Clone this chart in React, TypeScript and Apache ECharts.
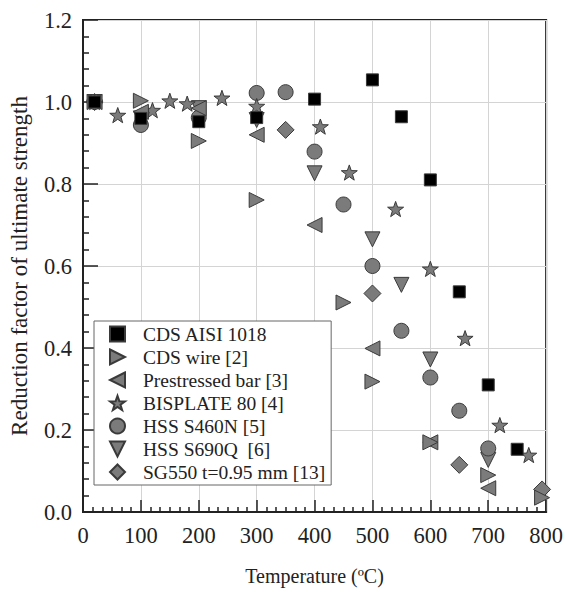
import React, { useEffect, useRef } from "react";
import * as echarts from "echarts";

const seriesNames = [
  "CDS AISI 1018",
  "CDS wire [2]",
  "Prestressed bar [3]",
  "BISPLATE 80 [4]",
  "HSS S460N [5]",
  "HSS S690Q  [6]",
  "SG550 t=0.95 mm [13]",
];

const cdsAisi: number[][] = [
  [20, 1.0], [100, 0.96], [200, 0.952], [300, 0.962], [400, 1.007],
  [500, 1.054], [550, 0.964], [600, 0.81], [650, 0.537], [700, 0.31], [750, 0.153],
];
const cdsWire: number[][] = [
  [20, 1.0], [100, 1.003], [200, 0.905], [300, 0.761], [450, 0.511],
  [500, 0.318], [600, 0.17], [700, 0.09], [793, 0.035],
];
const prestressed: number[][] = [
  [20, 1.0], [100, 0.976], [200, 0.985], [300, 0.92], [400, 0.70],
  [500, 0.399], [600, 0.17], [700, 0.058],
];
const bisplate: number[][] = [
  [20, 1.0], [60, 0.968], [120, 0.98], [150, 1.003], [180, 0.996], [240, 1.01],
  [300, 0.99], [410, 0.94], [460, 0.828], [540, 0.739], [600, 0.593],
  [660, 0.424], [720, 0.212], [770, 0.139],
];
const s460n: number[][] = [
  [20, 1.0], [100, 0.944], [200, 0.962], [300, 1.022], [350, 1.024],
  [400, 0.879], [450, 0.75], [500, 0.60], [550, 0.442], [600, 0.328],
  [650, 0.247], [700, 0.155],
];
const s690q: number[][] = [
  [20, 1.0], [100, 0.96], [200, 0.985], [300, 0.956], [400, 0.826],
  [500, 0.665], [550, 0.554], [600, 0.372], [700, 0.127],
];
const sg550: number[][] = [
  [20, 1.0], [350, 0.932], [500, 0.533], [650, 0.115], [793, 0.055],
];

const xTicks = [0, 100, 200, 300, 400, 500, 600, 700, 800];
const yTicks = [0, 0.2, 0.4, 0.6, 0.8, 1.0, 1.2];

const STAR =
  "path://M50,0 L61.76,33.82 L97.55,34.55 L69.02,56.18 L79.39,90.45 L50,70 L20.61,90.45 L30.98,56.18 L2.45,34.55 L38.24,33.82 Z";
const TRI_RIGHT = "path://M0,0 L100,50 L0,100 Z";
const TRI_LEFT = "path://M100,0 L0,50 L100,100 Z";
const TRI_DOWN = "path://M0,0 L100,0 L50,100 Z";

const FONT = "'Liberation Serif', 'Times New Roman', serif";
const GRAY = "#7b7b7b";
const EDGE = "#3a3a3a";

export default function App() {
  const ref = useRef<HTMLDivElement>(null);
  useEffect(() => {
    document.body.style.margin = "0";
    if (!ref.current) return;
    const chart = echarts.init(ref.current, undefined, { renderer: "svg" });
    const mk = (
      name: string,
      data: number[][],
      symbol: string,
      size: number,
      color: string,
      z: number
    ) => ({
      type: "scatter",
      name,
      data,
      symbol,
      symbolSize: size,
      symbolKeepAspect: true,
      z,
      itemStyle: { color, borderColor: EDGE, borderWidth: 1, opacity: 1 },
    });
    chart.setOption({
      animation: false,
      backgroundColor: "#ffffff",
      textStyle: { fontFamily: FONT },
      grid: {
        left: 82,
        right: 18,
        top: 20,
        bottom: 80,
        show: true,
        borderColor: "#222",
        borderWidth: 2,
        backgroundColor: "transparent",
      },
      legend: {
        orient: "vertical",
        left: 94,
        top: 321,
        data: seriesNames,
        itemWidth: 15,
        itemHeight: 15,
        itemGap: 3,
        padding: [3, 6, 3, 15],
        backgroundColor: "#ffffff",
        borderColor: "#666",
        borderWidth: 1,
        borderRadius: 0,
        textStyle: {
          fontFamily: FONT,
          fontSize: 19.5,
          color: "#222",
          padding: [0, 0, 0, 13],
        },
        z: 10,
      },
      xAxis: {
        type: "value",
        min: xTicks[0],
        max: xTicks[xTicks.length - 1],
        interval: 100,
        name: "Temperature (ºC)",
        nameLocation: "middle",
        nameGap: 54,
        nameTextStyle: { fontFamily: FONT, fontSize: 20, color: "#222" },
        axisLine: { show: true, onZero: false, lineStyle: { color: "#222", width: 2 } },
        axisTick: { show: true, inside: true, length: 12, lineStyle: { color: "#222", width: 1.5 } },
        minorTick: { show: true, splitNumber: 6, length: 5, lineStyle: { color: "#222", width: 1.5 } },
        axisLabel: { fontFamily: FONT, fontSize: 22.5, color: "#222", margin: 12 },
        splitLine: { show: true, lineStyle: { color: "#d4d4d4", width: 1 } },
      },
      yAxis: {
        type: "value",
        min: yTicks[0],
        max: yTicks[yTicks.length - 1],
        interval: 0.2,
        name: "Reduction factor of ultimate strength",
        nameLocation: "middle",
        nameGap: 52,
        nameTextStyle: { fontFamily: FONT, fontSize: 23, color: "#222" },
        axisLine: { show: true, onZero: false, lineStyle: { color: "#222", width: 2 } },
        axisTick: { show: true, inside: true, length: 15, lineStyle: { color: "#222", width: 1.5 } },
        minorTick: { show: true, splitNumber: 5, length: 6, lineStyle: { color: "#222", width: 1.5 } },
        axisLabel: {
          fontFamily: FONT,
          fontSize: 22.5,
          color: "#222",
          margin: 11,
          formatter: (v: number) => v.toFixed(1),
        },
        splitLine: { show: true, lineStyle: { color: "#d4d4d4", width: 1 } },
      },
      series: [
        mk(seriesNames[6], sg550, "diamond", 17, GRAY, 2),
        mk(seriesNames[5], s690q, TRI_DOWN, 15, GRAY, 2),
        mk(seriesNames[4], s460n, "circle", 15, GRAY, 2),
        mk(seriesNames[3], bisplate, STAR, 16, GRAY, 2),
        mk(seriesNames[2], prestressed, TRI_LEFT, 15, GRAY, 2),
        mk(seriesNames[1], cdsWire, TRI_RIGHT, 15, GRAY, 2),
        mk(seriesNames[0], cdsAisi, "rect", 12, "#000000", 2),
      ],
    });
    return () => chart.dispose();
  }, []);
  return <div ref={ref} style={{ width: 566, height: 592 }} />;
}
